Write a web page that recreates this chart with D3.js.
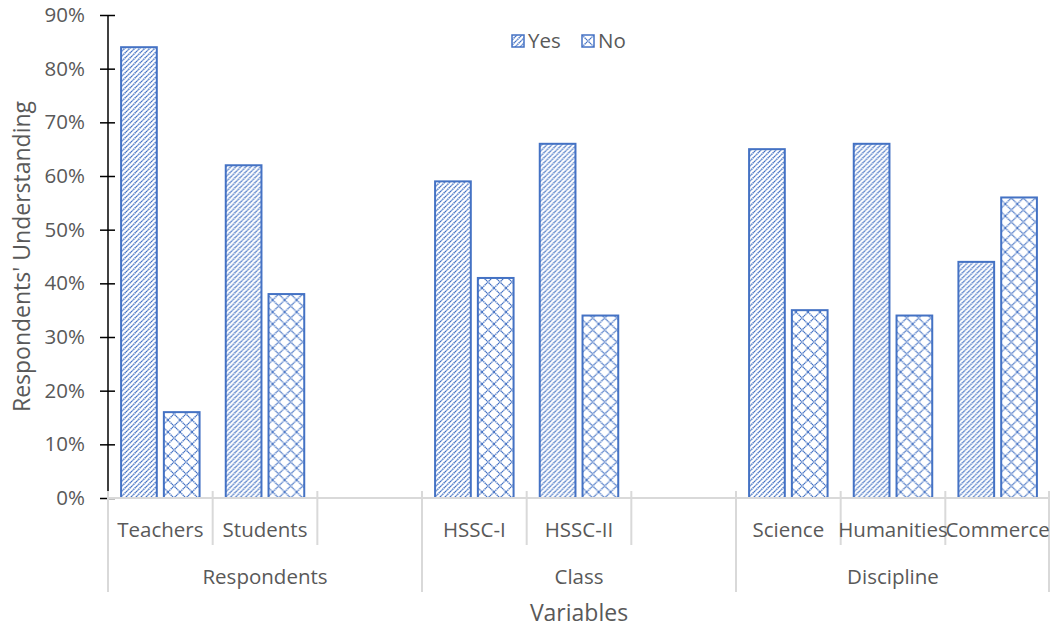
<!DOCTYPE html>
<html>
<head>
<meta charset="utf-8">
<script src="https://cdn.jsdelivr.net/npm/d3@7/dist/d3.min.js"></script>
<style>
  html, body { margin: 0; padding: 0; background: #fff; }
  svg { display: block; font-family: "Open Sans", "Noto Sans", sans-serif; }
</style>
</head>
<body>
<svg id="chart" width="1051" height="630"></svg>
<script>
// Category slots along the x axis (empty strings are spacer slots)
const categories = ["Teachers", "Students", "", "HSSC-I", "HSSC-II", "", "Science", "Humanities", "Commerce"];
// Group label for each slot
const categoryGroups = ["Respondents", "Respondents", "Respondents", "Class", "Class", "Class", "Discipline", "Discipline", "Discipline"];
const groups = ["Respondents", "Class", "Discipline"];
const series = ["Yes", "No"];
// Percent answering Yes / No per category (null = no bar)
const yesValues = [84, 62, null, 59, 66, null, 65, 66, 44];
const noValues  = [16, 38, null, 41, 34, null, 35, 34, 56];
const yTicks = [0, 10, 20, 30, 40, 50, 60, 70, 80, 90];

const blue = "#4472C4";
const textColor = "#595959";
const gridGray = "#D9D9D9";

const svg = d3.select("#chart");
const margin = { left: 108, right: 1050, top: 15, bottom: 498 };

const x0 = d3.scaleBand()
  .domain(d3.range(categories.length))
  .range([margin.left, margin.right])
  .paddingInner(0).paddingOuter(0);

const x1 = d3.scaleBand()
  .domain(series)
  .range([0, x0.bandwidth()])
  .paddingInner(0.165)
  .paddingOuter(0.306);

const y = d3.scaleLinear().domain([0, 90]).range([margin.bottom, margin.top]);

// Fill patterns
const defs = svg.append("defs");
const pYes = defs.append("pattern")
  .attr("id", "pat-yes").attr("patternUnits", "userSpaceOnUse")
  .attr("width", 5).attr("height", 5);
pYes.append("rect").attr("width", 5).attr("height", 5).attr("fill", "#fff");
pYes.append("path").attr("d", "M-1,6 L6,-1 M-1,1 L1,-1 M4,6 L6,4")
  .attr("stroke", blue).attr("stroke-width", 1.5).attr("stroke-dasharray", "1.4,0.5");

const pNo = defs.append("pattern")
  .attr("id", "pat-no").attr("patternUnits", "userSpaceOnUse")
  .attr("width", 12).attr("height", 12);
pNo.append("rect").attr("width", 12).attr("height", 12).attr("fill", "#fff");
pNo.append("path").attr("d", "M0,0 L12,12 M0,12 L12,0")
  .attr("stroke", blue).attr("stroke-width", 1.3).attr("stroke-dasharray", "1.4,0.5");

const fills = { Yes: "url(#pat-yes)", No: "url(#pat-no)" };

// Bars
const rows = categories.map((c, i) => ({ i, Yes: yesValues[i], No: noValues[i] }));
const slot = svg.append("g").selectAll("g").data(rows).join("g")
  .attr("transform", d => `translate(${x0(d.i)},0)`);
slot.selectAll("rect")
  .data(d => series.filter(s => d[s] != null).map(s => ({ s, v: d[s] })))
  .join("rect")
  .attr("x", d => x1(d.s))
  .attr("width", x1.bandwidth())
  .attr("y", d => y(d.v))
  .attr("height", d => y(0) - y(d.v))
  .attr("fill", d => fills[d.s])
  .attr("stroke", blue)
  .attr("stroke-width", 2);

// Y axis
const yAxis = svg.append("g").attr("transform", `translate(${margin.left},0)`)
  .call(d3.axisLeft(y).tickValues(yTicks).tickFormat(d => d + "%").tickSize(8).tickPadding(15));
yAxis.select(".domain").remove();
yAxis.selectAll(".tick line").attr("x1", -8).attr("x2", 7).attr("stroke", "#000").attr("stroke-width", 1.5);
yAxis.selectAll(".tick text").attr("fill", textColor).attr("font-size", 20.5)
  .attr("font-family", "'Open Sans', sans-serif");
yAxis.append("line").attr("x1", 0).attr("x2", 0)
  .attr("y1", y(90)).attr("y2", y(0) - 7).attr("stroke", "#000").attr("stroke-width", 1.5);

// X axis (multi-level)
const xg = svg.append("g");
xg.append("line").attr("x1", margin.left).attr("x2", margin.right)
  .attr("y1", y(0)).attr("y2", y(0)).attr("stroke", gridGray).attr("stroke-width", 2);

const tickTop = y(0) - 7;
// separators between categories
d3.range(1, categories.length).forEach(i => {
  const isGroupEdge = categoryGroups[i] !== categoryGroups[i - 1];
  xg.append("line")
    .attr("x1", x0(i)).attr("x2", x0(i))
    .attr("y1", tickTop).attr("y2", isGroupEdge ? 592 : 545)
    .attr("stroke", gridGray).attr("stroke-width", 2);
});
[margin.left, margin.right - 1].forEach(px => {
  xg.append("line").attr("x1", px).attr("x2", px)
    .attr("y1", tickTop).attr("y2", 592)
    .attr("stroke", gridGray).attr("stroke-width", 2);
});

xg.selectAll("text.cat").data(categories.map((c, i) => ({ c, i })).filter(d => d.c))
  .join("text").attr("class", "cat")
  .attr("x", d => x0(d.i) + x0.bandwidth() / 2)
  .attr("y", 537)
  .attr("text-anchor", "middle")
  .attr("fill", textColor).attr("font-size", 20.5)
  .text(d => d.c);

xg.selectAll("text.grp").data(groups).join("text").attr("class", "grp")
  .attr("x", g => {
    const idx = categoryGroups.map((cg, i) => cg === g ? i : -1).filter(i => i >= 0);
    return (x0(idx[0]) + x0(idx[idx.length - 1]) + x0.bandwidth()) / 2;
  })
  .attr("y", 584)
  .attr("text-anchor", "middle")
  .attr("fill", textColor).attr("font-size", 20.5)
  .text(g => g);

// Axis titles
svg.append("text")
  .attr("x", (margin.left + margin.right) / 2).attr("y", 621)
  .attr("text-anchor", "middle").attr("fill", textColor).attr("font-size", 23)
  .text("Variables");
svg.append("text")
  .attr("transform", `translate(30,${(margin.top + margin.bottom) / 2}) rotate(-90)`)
  .attr("text-anchor", "middle").attr("fill", textColor).attr("font-size", 23)
  .text("Respondents' Understanding");

// Legend
const legend = svg.append("g").attr("transform", "translate(512,35)");
const li = legend.selectAll("g").data(series).join("g")
  .attr("transform", (d, i) => `translate(${i * 70},0)`);
li.append("rect").attr("width", 12).attr("height", 12)
  .attr("fill", d => fills[d]).attr("stroke", blue).attr("stroke-width", 1.5);
li.append("text").attr("x", 16).attr("y", 13)
  .attr("fill", textColor).attr("font-size", 20.5).text(d => d);
</script>
</body>
</html>
